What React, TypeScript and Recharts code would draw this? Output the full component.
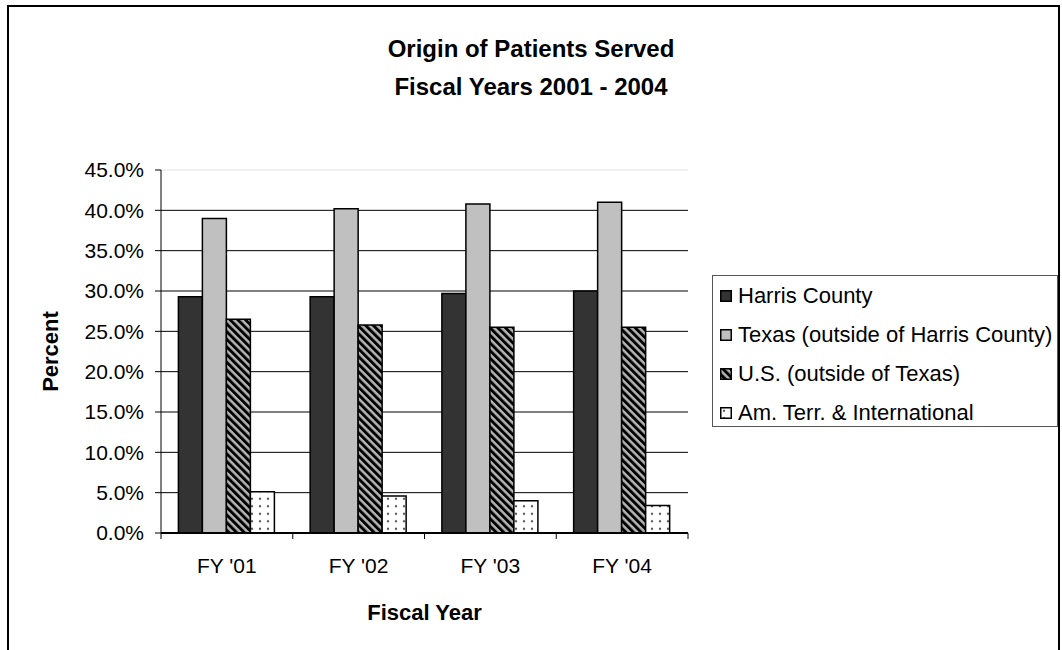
import React from 'react';
import { BarChart, Bar, XAxis, YAxis, CartesianGrid, Legend } from 'recharts';

const categories = ["FY '01", "FY '02", "FY '03", "FY '04"];
const harrisCounty = [29.3, 29.3, 29.7, 30.0];
const texasOutsideHarris = [39.0, 40.2, 40.8, 41.0];
const usOutsideTexas = [26.5, 25.8, 25.5, 25.5];
const amTerrIntl = [5.1, 4.6, 4.0, 3.4];
const yTicks = [0, 5, 10, 15, 20, 25, 30, 35, 40, 45];

const seriesKeys = ['harris', 'texas', 'us', 'am'];
const seriesNames = [
  'Harris County',
  'Texas (outside of Harris County)',
  'U.S. (outside of Texas)',
  'Am. Terr. & International',
];
const seriesFills = ['#333333', '#c0c0c0', 'url(#stripes)', 'url(#dots)'];

const data = categories.map((c, i) => ({
  category: c,
  harris: harrisCounty[i],
  texas: texasOutsideHarris[i],
  us: usOutsideTexas[i],
  am: amTerrIntl[i],
}));

const FONT = '"Liberation Sans", Arial, sans-serif';
const X_TICK_SIZE = 6;
const X_TICK_MARGIN = 19;

const LegendBox = () => (
  <div
    style={{
      width: 346,
      height: 152,
      boxSizing: 'border-box',
      border: '1px solid #555',
      background: '#fff',
      fontFamily: FONT,
      fontSize: 22,
      color: '#000',
      paddingTop: 0,
      paddingLeft: 7,
      overflow: 'hidden',
    }}
  >
    {seriesNames.map((n, i) => (
      <div key={n} style={{ height: 39, display: 'flex', alignItems: 'center', whiteSpace: 'nowrap' }}>
        <svg width={12} height={12} style={{ marginRight: 6, flex: 'none' }}>
          <rect x={0.75} y={0.75} width={10.5} height={10.5} fill={seriesFills[i]} stroke="#000" strokeWidth={1.5} />
        </svg>
        <span>{n}</span>
      </div>
    ))}
  </div>
);

const gridLine = (props: any) => {
  const { x1, y1, x2, y2 } = props;
  const isTop = y1 < 172;
  return (
    <line
      key={`g-${y1}`}
      x1={x1}
      y1={y1}
      x2={x2}
      y2={y2}
      stroke={isTop ? '#e4e4e4' : '#000'}
      strokeWidth={1}
    />
  );
};

const CategoryTick = (props: any) => {
  const { x, y, payload, index } = props;
  const half = payload && payload.offset ? payload.offset : 0;
  const axisY = y - X_TICK_SIZE - X_TICK_MARGIN;
  const isLast = index === categories.length - 1;
  return (
    <g>
      <line x1={x - half} y1={axisY} x2={x - half} y2={axisY + X_TICK_SIZE} stroke="#000" strokeWidth={1} />
      {isLast && (
        <line x1={x + half} y1={axisY} x2={x + half} y2={axisY + X_TICK_SIZE} stroke="#000" strokeWidth={1} />
      )}
      <text x={x} y={y} dy="0.71em" textAnchor="middle" fill="#000" fontSize={21} fontFamily={FONT}>
        {payload.value}
      </text>
    </g>
  );
};

const PercentLabel = (props: any) => {
  const vb = props.viewBox || {};
  const x = vb.x + 38;
  const y = vb.y + vb.height / 2;
  return (
    <text
      x={x}
      y={y}
      transform={`rotate(-90, ${x}, ${y})`}
      textAnchor="middle"
      fontFamily={FONT}
      fontWeight="bold"
      fontSize={22}
      fill="#000"
    >
      Percent
    </text>
  );
};

export default function App() {
  return (
    <div style={{ position: 'absolute', left: 0, top: 0, width: 1062, height: 650, background: '#fff', overflow: 'hidden' }}>
      <div
        style={{
          position: 'absolute',
          left: 7,
          top: 5,
          width: 1053,
          height: 700,
          border: '2px solid #000',
          boxSizing: 'border-box',
        }}
      />
      <div
        style={{
          position: 'absolute',
          left: 0,
          top: 30,
          width: 1062,
          textAlign: 'center',
          fontFamily: FONT,
          fontWeight: 'bold',
          fontSize: 24,
          lineHeight: '38px',
          color: '#000',
        }}
      >
        <div>Origin of Patients Served</div>
        <div>Fiscal Years 2001 - 2004</div>
      </div>
      <div style={{ position: 'absolute', left: 0, top: 0 }}>
        <BarChart
          width={1062}
          height={650}
          data={data}
          margin={{ top: 170, right: 374, bottom: 17, left: 20 }}
          barCategoryGap="13.2%"
          barGap={0}
        >
          <defs>
            <pattern id="stripes" patternUnits="userSpaceOnUse" width={5.4} height={5.4} patternTransform="rotate(-45)">
              <rect x={0} y={0} width={5.4} height={5.4} fill="#b4b4b4" />
              <rect x={0} y={0} width={2.9} height={5.4} fill="#000" />
            </pattern>
            <pattern id="dots" patternUnits="userSpaceOnUse" width={8} height={7.5}>
              <rect x={0} y={0} width={8} height={7.5} fill="#fff" />
              <circle cx={4} cy={3.7} r={1.2} fill="#555" />
            </pattern>
          </defs>
          <CartesianGrid vertical={false} horizontal={gridLine} />
          <XAxis
            dataKey="category"
            height={100}
            axisLine={{ stroke: '#000', strokeWidth: 2 }}
            tickLine={false}
            tickMargin={X_TICK_MARGIN}
            tickSize={X_TICK_SIZE}
            interval={0}
            tick={<CategoryTick />}
            label={{
              value: 'Fiscal Year',
              position: 'insideBottom',
              offset: 13,
              fill: '#000',
              fontSize: 22,
              fontWeight: 'bold',
              fontFamily: FONT,
            }}
          />
          <YAxis
            width={141}
            domain={[0, 45]}
            ticks={yTicks}
            interval={0}
            tickFormatter={(v: number) => `${v.toFixed(1)}%`}
            axisLine={{ stroke: '#000', strokeWidth: 1 }}
            tickLine={{ stroke: '#000', strokeWidth: 1 }}
            tickSize={6}
            tickMargin={11}
            tick={{ fill: '#000', fontSize: 21, fontFamily: FONT }}
            label={<PercentLabel />}
          />
          <Legend
            layout="vertical"
            align="center"
            verticalAlign="middle"
            wrapperStyle={{ left: 712, top: 275, width: 346 }}
            content={() => <LegendBox />}
          />
          {seriesKeys.map((k, i) => (
            <Bar
              key={k}
              dataKey={k}
              name={seriesNames[i]}
              fill={seriesFills[i]}
              stroke="#000"
              strokeWidth={1.5}
              isAnimationActive={false}
            />
          ))}
        </BarChart>
      </div>
    </div>
  );
}
